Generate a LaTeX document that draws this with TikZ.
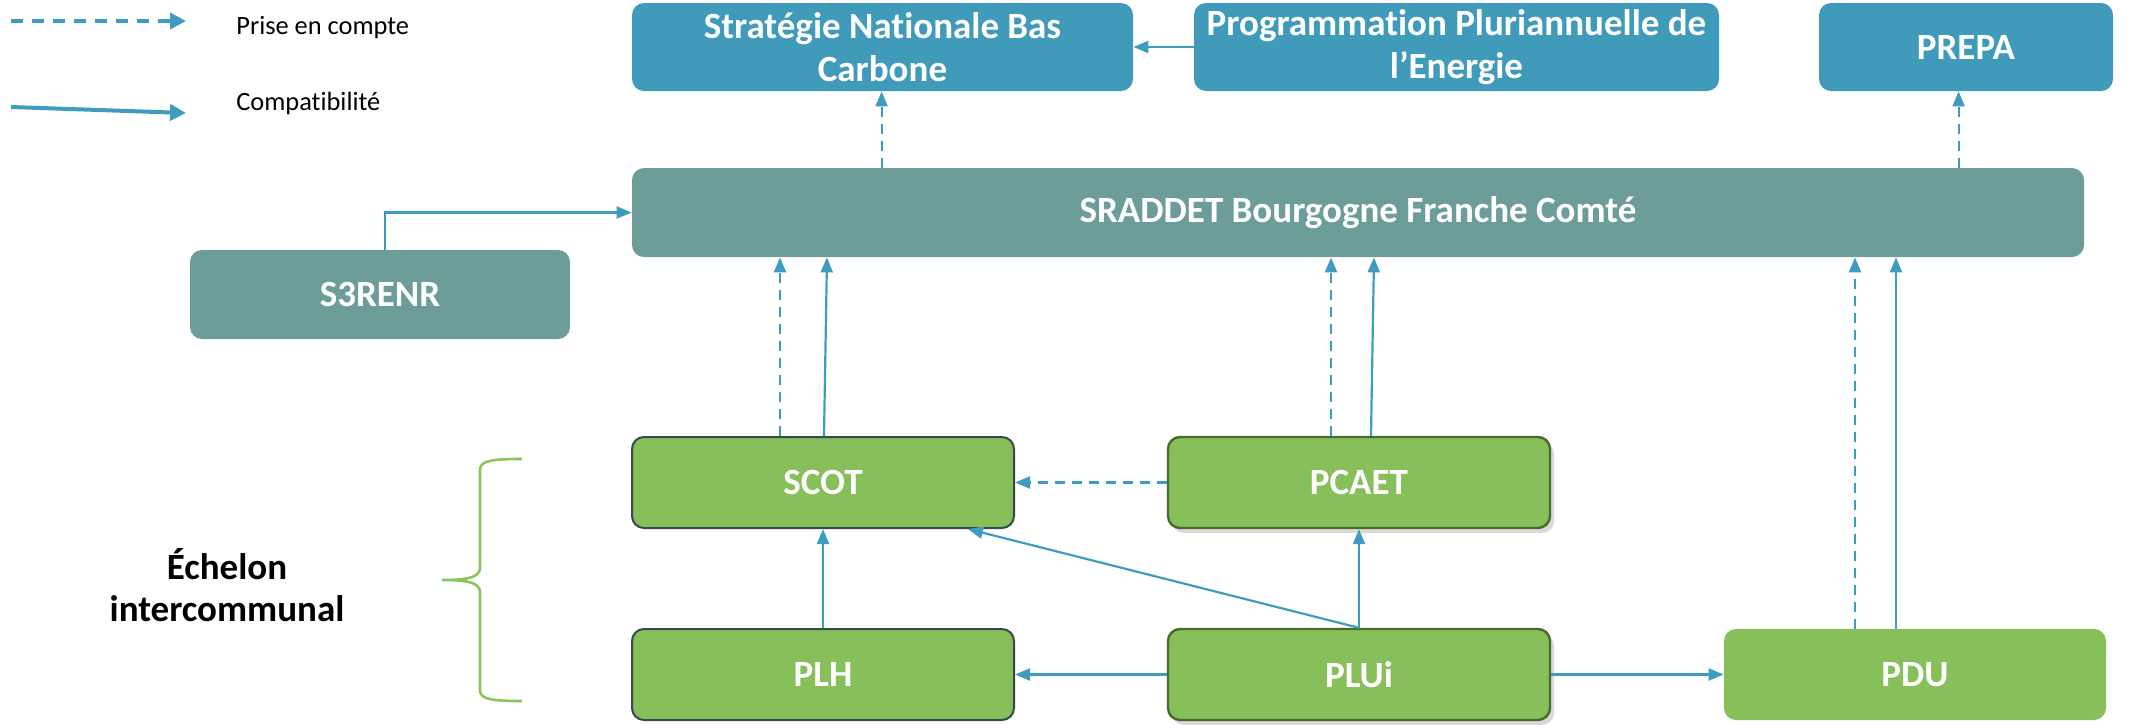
\documentclass[tikz,border=0pt]{standalone}
\usepackage{fontspec}
\setmainfont{Carlito}[Ligatures={NoCommon}]
\usetikzlibrary{arrows.meta,calc,shadows}
\definecolor{topblue}{HTML}{409BBA}
\definecolor{sgrey}{HTML}{6C9D99}
\definecolor{lgreen}{HTML}{87BF5B}
\definecolor{arrowc}{HTML}{3F9CBE}
\definecolor{bracec}{HTML}{8CC45C}
\definecolor{slateo}{HTML}{344A4C}
\definecolor{dgreeno}{HTML}{4A6B2C}
\tikzset{
  box/.style={rounded corners=6pt, inner sep=0pt, align=center, text=white,
    font=\fontsize{18.5}{21.3}\selectfont\bfseries},
  topbox/.style={box, fill=topblue, minimum height=44pt},
  greybox/.style={box, fill=sgrey, minimum height=44.5pt},
  greenbox/.style={box, fill=lgreen, minimum width=191pt, minimum height=45.5pt},
  slatebox/.style={greenbox, draw=slateo, line width=1pt},
  dgbox/.style={greenbox, draw=dgreeno, line width=1.2pt,
    drop shadow={shadow xshift=2pt, shadow yshift=-2.5pt, opacity=0.3}},
  comp/.style={draw=arrowc, line width=1.1pt, -{Triangle[length=7.5pt,width=6pt]}},
  pec/.style={draw=arrowc, line width=1.1pt, dash pattern=on 5pt off 3.5pt,
    -{Triangle[length=7.5pt,width=6pt]}},
  legtext/.style={anchor=west, inner sep=0pt, font=\fontsize{13.2}{15}\selectfont},
}
\begin{document}
\begin{tikzpicture}[x=0.5pt,y=-0.5pt]
\useasboundingbox (0,0) rectangle (2154,724);

% legend
\coordinate (l1a) at (11,21);
\coordinate (l1b) at (186,21);
\coordinate (l2a) at (11,107);
\coordinate (l2b) at (186,113);
\draw[draw=arrowc, line width=2pt, dash pattern=on 6pt off 4.5pt, -{Triangle[length=8pt,width=8pt]}] (l1a) -- (l1b);
\draw[draw=arrowc, line width=2pt, -{Triangle[length=8pt,width=8pt]}] (l2a) -- (l2b);
\node[legtext] (lt1) at (236,28) {Prise en compte};
\node[legtext] (lt2) at (236,103) {Compatibilité};

% top boxes
\node[topbox, minimum width=250.5pt] (snbc) at (882.5,47) {Stratégie Nationale Bas\\Carbone};
\node[topbox, minimum width=262.5pt] (ppe) at (1456.5,47) {Programmation Pluriannuelle de\\l’Energie};
\node[topbox, minimum width=147pt] (prepa) at (1966,47) {PREPA};

% SRADDET and S3RENR
\node[greybox, minimum width=726pt] (srad) at (1358,212.5) {SRADDET Bourgogne Franche Comté};
\node[greybox, minimum width=190pt] (s3) at (380,294.5) {S3RENR};

% green boxes
\node[slatebox] (scot) at (823,482.5) {SCOT};
\node[dgbox] (pcaet) at (1359,482.5) {PCAET};
\node[slatebox] (plh) at (823,674.5) {PLH};
\node[dgbox] (plui) at (1359,674.5) {PLUi};
\node[greenbox] (pdu) at (1915,674.5) {PDU};

% brace and label
\draw[draw=bracec, line width=1.3pt]
  (522,459) .. controls (490,459) and (480,461) .. (480,470)
  -- (480,568) .. controls (480,578) and (465,580) .. (442,580)
  .. controls (465,580) and (480,582) .. (480,592)
  -- (480,690) .. controls (480,699) and (490,701) .. (522,701);
\node[align=center, font=\fontsize{18.5}{20.6}\selectfont\bfseries] (ech) at (227,585) {Échelon\\intercommunal};

% arrows top
\draw[comp] (ppe.west) -- (snbc.east);
\coordinate (d1) at ($(srad.north west)+(250,0)$);
\draw[pec] (d1) -- (d1 |- snbc.south);
\coordinate (d2) at ($(srad.north west)+(1327,0)$);
\draw[pec] (d2) -- (d2 |- prepa.south);
\coordinate (s3t) at ($(s3.north)+(5,0)$);
\draw[comp] (s3t) |- (srad.west);

% SCOT -> SRADDET
\coordinate (sc1) at ($(scot.north)+(-43,0)$);
\draw[pec] (sc1) -- (sc1 |- srad.south);
\coordinate (sc2) at ($(scot.north)+(1,0)$);
\coordinate (sc2t) at ($(scot.north |- srad.south)+(4,0)$);
\draw[comp] (sc2) -- (sc2t);

% PCAET -> SRADDET
\coordinate (pc1) at ($(pcaet.north)+(-28,0)$);
\draw[pec] (pc1) -- (pc1 |- srad.south);
\coordinate (pc2) at ($(pcaet.north)+(12,0)$);
\coordinate (pc2t) at ($(pcaet.north |- srad.south)+(15,0)$);
\draw[comp] (pc2) -- (pc2t);

% PDU -> SRADDET
\coordinate (pd1) at ($(pdu.north)+(-60,0)$);
\draw[pec] (pd1) -- (pd1 |- srad.south);
\coordinate (pd2) at ($(pdu.north)+(-19,0)$);
\draw[comp] (pd2) -- (pd2 |- srad.south);

% lower arrows
\draw[pec] (pcaet.west) -- (scot.east);
\draw[comp] (plh.north) -- (scot.south);
\coordinate (scotb) at ($(scot.south east)+(-47,0)$);
\draw[comp] (plui.north) -- (scotb);
\draw[comp] (plui.north) -- (pcaet.south);
\draw[comp] (plui.west) -- (plh.east);
\draw[comp] (plui.east) -- (pdu.west);
\end{tikzpicture}
\end{document}
